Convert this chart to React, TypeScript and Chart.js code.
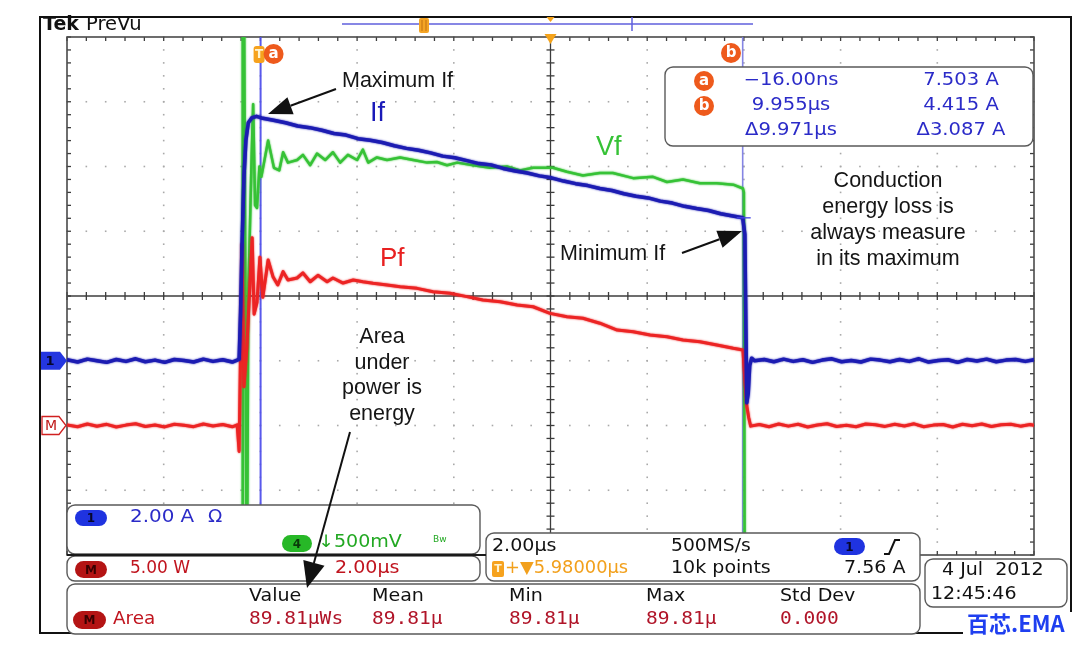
import { useEffect, useRef } from "react";
import { Chart, registerables } from "chart.js";
Chart.register(...registerables);

// ---- time base (µs), 2 µs/div, 10 divisions ----
const TIME_MIN = -4.02;
const TIME_MAX = 15.98;
const TIME_PER_DIV = 2;
const CURSOR_A = -0.016;
const CURSOR_B = 9.955;

// ---- vertical settings: units per division and zero offset (divisions from centre) ----
const CH1_PER_DIV = 2.0; // A/div
const CH1_OFFSET = -1;
const MATH_PER_DIV = 5.0; // W/div
const MATH_OFFSET = -2;
const CH4_PER_DIV = 0.5; // V/div
const CH4_OFFSET = -1;

// ---- If (channel 1, A) ----
const ifTime = [
  -4.02, -3.8, -3.6, -3.4, -3.2, -3.0, -2.8, -2.6, -2.4, -2.2, -2.0, -1.8, -1.6, -1.4, -1.2, -1.0, -0.8, -0.6, -0.5,
  -0.46, -0.43, -0.4, -0.36, -0.32, -0.27, -0.2, -0.1, 0,
  0.25, 0.5, 0.75, 1, 1.25, 1.5, 1.75, 2, 2.25, 2.5, 2.75, 3, 3.25, 3.5, 3.75, 4, 4.25, 4.5, 4.75, 5, 5.25, 5.5, 5.75,
  6, 6.25, 6.5, 6.75, 7, 7.25, 7.5, 7.75, 8, 8.25, 8.5, 8.75, 9, 9.25, 9.5, 9.75,
  9.955, 10, 10.02, 10.04, 10.07, 10.1, 10.14, 10.2,
  10.4, 10.6, 10.8, 11, 11.2, 11.4, 11.6, 11.8, 12, 12.2, 12.4, 12.6, 12.8, 13, 13.2, 13.4, 13.6, 13.8, 14, 14.2,
  14.4, 14.6, 14.8, 15, 15.2, 15.4, 15.6, 15.8, 15.98,
];
const ifAmps = [
  0.03, -0.04, 0.05, 0.0, -0.05, 0.04, -0.02, 0.06, -0.03, 0.02, -0.05, 0.04, 0.01, -0.04, 0.05, -0.02, 0.03, -0.04, 0.02,
  0.05, 1.5, 3.6, 5.7, 6.8, 7.35, 7.5, 7.55, 7.5,
  7.43, 7.35, 7.25, 7.2, 7.12, 7.02, 6.97, 6.86, 6.81, 6.74, 6.64, 6.56, 6.5, 6.42, 6.32, 6.27, 6.18, 6.09, 6.05, 5.94,
  5.86, 5.8, 5.71, 5.65, 5.55, 5.47, 5.41, 5.32, 5.26, 5.16, 5.08, 5.03, 4.93, 4.87, 4.77, 4.7, 4.64, 4.54, 4.47,
  4.415, 3.9, 1.2, -1.3, -1.0, -0.15, 0.08, 0.0,
  0.04, -0.03, 0.05, -0.02, 0.03, -0.05, 0.02, 0.06, -0.03, 0.01, -0.04, 0.05, 0.02, -0.03, 0.04, -0.02, 0.06, -0.04,
  0.01, 0.03, -0.05, 0.04, -0.01, 0.05, -0.03, 0.02, 0.04, -0.02, 0.03,
];

// ---- Vf (channel 4, V) ----
const vfTime = [
  -4.02, -0.4, -0.385, -0.36, -0.3, -0.27, -0.2, -0.17, -0.13, -0.09, -0.04, 0,
  0.14, 0.26, 0.37, 0.45, 0.55, 0.74, 0.86, 1.01, 1.15, 1.32, 1.48, 1.63, 1.79, 1.98, 2.1, 2.21, 2.39, 2.6, 2.87,
  3.14, 3.43, 3.63, 3.84, 4.05, 4.38, 4.73, 5.08, 5.35, 5.62, 6.03, 6.32, 6.65, 7.0, 7.27, 7.69, 8.1, 8.39, 8.72,
  9.07, 9.42, 9.76, 9.96,
  9.98, 10.0, 15.98,
];
const vfVolts = [
  -2.4, -2.4, 3.0, 3.0, -2.0, 0.5, 1.6, 1.98, 1.2, 1.18, 1.5, 1.42,
  1.7, 1.49, 1.47, 1.61, 1.53, 1.55, 1.59, 1.51, 1.6, 1.55, 1.61, 1.53, 1.59, 1.55, 1.63, 1.53, 1.57, 1.55, 1.57,
  1.55, 1.53, 1.535, 1.51, 1.53, 1.51, 1.49, 1.5, 1.47, 1.49, 1.49, 1.46, 1.43, 1.45, 1.45, 1.41, 1.42, 1.38, 1.4,
  1.37, 1.37, 1.36, 1.33,
  1.3, -2.4, -2.4,
];

// ---- Pf (math, W) ----
const pfTime = [
  -4.02, -3.8, -3.6, -3.4, -3.2, -3.0, -2.8, -2.6, -2.4, -2.2, -2.0, -1.8, -1.6, -1.4, -1.2, -1.0, -0.8, -0.6, -0.5,
  -0.46, -0.4, -0.36, -0.3, -0.19, -0.15, -0.09, -0.03, 0.03,
  0.14, 0.24, 0.34, 0.45, 0.55, 0.74, 0.86, 1.01, 1.17, 1.36, 1.48, 1.69, 1.9, 2.1, 2.31, 2.6, 2.87, 3.22, 3.55,
  3.9, 4.25, 4.58, 4.94, 5.29, 5.62, 5.97, 6.32, 6.65, 7.0, 7.36, 7.69, 8.04, 8.39, 8.72, 9.07, 9.42, 9.76, 9.96,
  10.0, 10.04, 10.08, 10.12,
  10.3, 10.5, 10.7, 10.9, 11.1, 11.3, 11.5, 11.7, 11.9, 12.1, 12.3, 12.5, 12.7, 12.9, 13.1, 13.3, 13.5, 13.7, 13.9,
  14.1, 14.3, 14.5, 14.7, 14.9, 15.1, 15.3, 15.5, 15.7, 15.9, 15.98,
];
const pfWatts = [
  0.05, -0.1, 0.12, -0.06, 0.09, -0.12, 0.03, 0.13, -0.08, 0.04, -0.11, 0.1, 0.02, -0.09, 0.12, -0.04, 0.08, -0.1, 0.05,
  -2.0, 14.0, 3.0, 6.0, 14.5, 8.6, 9.5, 13.0, 9.9,
  12.78, 11.49, 10.85, 11.88, 11.24, 11.39, 11.78, 11.1, 11.6, 11.1, 11.39, 11.0, 11.24, 11.1, 10.98, 10.85, 10.72,
  10.59, 10.33, 10.21, 9.95, 9.69, 9.56, 9.3, 9.17, 8.66, 8.4, 8.28, 7.9, 7.37, 7.24, 6.99, 6.86, 6.6, 6.47, 6.22,
  5.96, 5.83,
  3.5, 1.5, 0.6, -0.05,
  0.08, -0.1, 0.12, -0.05, 0.1, -0.12, 0.04, 0.14, -0.08, 0.02, -0.1, 0.12, 0.05, -0.07, 0.1, -0.04, 0.13, -0.1,
  0.03, 0.08, -0.12, 0.1, -0.02, 0.12, -0.08, 0.05, 0.1, -0.05, 0.07, 0.02,
];

// ---- readouts ----
const cursorTimes = ["\u221216.00ns", "9.955\u00b5s", "\u03949.971\u00b5s"];
const cursorAmps = ["7.503 A", "4.415 A", "\u03943.087 A"];
const measHeaders = ["Value", "Mean", "Min", "Max", "Std Dev"];
const measValues = ["89.81\u00b5Ws", "89.81\u00b5", "89.81\u00b5", "89.81\u00b5", "0.000"];

const TEK = '"DejaVu Sans", sans-serif';
const ANN = '"Liberation Sans", Arial, sans-serif';
const MONO = '"DejaVu Sans Mono", monospace';

function txt(ctx: CanvasRenderingContext2D, s: string, x: number, y: number, font: string, color: string, align: CanvasTextAlign = "left", sx = 1) {
  ctx.save();
  ctx.font = font;
  ctx.fillStyle = color;
  ctx.textAlign = align;
  ctx.textBaseline = "middle";
  ctx.translate(x, y);
  ctx.scale(sx, 1);
  ctx.fillText(s, 0, 0);
  ctx.restore();
}

function rr(ctx: CanvasRenderingContext2D, x: number, y: number, w: number, h: number, r: number) {
  ctx.beginPath();
  ctx.moveTo(x + r, y);
  ctx.lineTo(x + w - r, y);
  ctx.arcTo(x + w, y, x + w, y + r, r);
  ctx.lineTo(x + w, y + h - r);
  ctx.arcTo(x + w, y + h, x + w - r, y + h, r);
  ctx.lineTo(x + r, y + h);
  ctx.arcTo(x, y + h, x, y + h - r, r);
  ctx.lineTo(x, y + r);
  ctx.arcTo(x, y, x + r, y, r);
  ctx.closePath();
}

function box(ctx: CanvasRenderingContext2D, x: number, y: number, w: number, h: number) {
  rr(ctx, x, y, w, h, 8);
  ctx.fillStyle = "#ffffff";
  ctx.fill();
  ctx.strokeStyle = "#5a5a5a";
  ctx.lineWidth = 1.4;
  ctx.stroke();
}

function pill(ctx: CanvasRenderingContext2D, x: number, y: number, w: number, h: number, fill: string, label: string, labelColor: string) {
  rr(ctx, x, y, w, h, h / 2);
  ctx.fillStyle = fill;
  ctx.fill();
  txt(ctx, label, x + w / 2, y + h / 2 + 1, `bold 12px ${TEK}`, labelColor, "center");
}

function line(ctx: CanvasRenderingContext2D, x1: number, y1: number, x2: number, y2: number) {
  ctx.beginPath();
  ctx.moveTo(x1, y1);
  ctx.lineTo(x2, y2);
  ctx.stroke();
}

function arrow(ctx: CanvasRenderingContext2D, x1: number, y1: number, x2: number, y2: number, hl = 24, hw = 9) {
  const a = Math.atan2(y2 - y1, x2 - x1);
  const bx = x2 - hl * Math.cos(a);
  const by = y2 - hl * Math.sin(a);
  ctx.strokeStyle = "#111";
  ctx.lineWidth = 2;
  line(ctx, x1, y1, bx, by);
  ctx.beginPath();
  ctx.moveTo(x2, y2);
  ctx.lineTo(bx + hw * Math.sin(a), by - hw * Math.cos(a));
  ctx.lineTo(bx - hw * Math.sin(a), by + hw * Math.cos(a));
  ctx.closePath();
  ctx.fillStyle = "#111";
  ctx.fill();
}

function badge(ctx: CanvasRenderingContext2D, cx: number, cy: number, s: string) {
  ctx.beginPath();
  ctx.arc(cx, cy, 10, 0, Math.PI * 2);
  ctx.fillStyle = "#ee5a1c";
  ctx.fill();
  txt(ctx, s, cx, cy, `bold 15px ${TEK}`, "#ffffff", "center");
}

const scopePlugin = {
  id: "scope",
  beforeDraw(chart: any) {
    const ctx = chart.ctx as CanvasRenderingContext2D;
    ctx.save();
    ctx.fillStyle = "#ffffff";
    ctx.fillRect(0, 0, chart.width, chart.height);
    ctx.restore();
  },
  beforeDatasetDraw(chart: any, args: any) {
    const ctx = chart.ctx as CanvasRenderingContext2D;
    ctx.save();
    ctx.shadowColor = chart.data.datasets[args.index].borderColor;
    ctx.shadowBlur = 2;
  },
  afterDatasetDraw(chart: any) {
    chart.ctx.restore();
  },
  beforeDatasetsDraw(chart: any) {
    const ctx = chart.ctx as CanvasRenderingContext2D;
    const { left, right, top, bottom } = chart.chartArea;
    const xs = chart.scales.x;
    const dy = (bottom - top) / 8;
    const xAt = (d: number) => xs.getPixelForValue(TIME_MIN + d * TIME_PER_DIV);
    ctx.save();
    // dotted graticule
    ctx.fillStyle = "#a9a9a9";
    for (let i = 1; i < 10; i++) {
      if (i === 5) continue;
      const x = xAt(i);
      for (let k = 0; k <= 40; k++) ctx.fillRect(x - 0.8, top + (k * dy) / 5 - 0.8, 1.6, 1.6);
    }
    for (let j = 1; j < 8; j++) {
      if (j === 4) continue;
      const y = top + j * dy;
      for (let k = 0; k <= 50; k++) ctx.fillRect(xAt(k / 5) - 0.8, y - 0.8, 1.6, 1.6);
    }
    // centre cross with minor ticks
    const cx = xAt(5);
    const cy = top + 4 * dy;
    ctx.strokeStyle = "#3c3c3c";
    ctx.lineWidth = 1.3;
    line(ctx, left, cy, right, cy);
    line(ctx, cx, top, cx, bottom);
    for (let k = 0; k <= 50; k++) {
      const x = xAt(k / 5);
      line(ctx, x, cy - 4, x, cy + 4);
      line(ctx, x, top, x, top + 4);
      line(ctx, x, bottom - 4, x, bottom);
    }
    for (let k = 0; k <= 40; k++) {
      const y = top + (k * dy) / 5;
      line(ctx, cx - 4, y, cx + 4, y);
      line(ctx, left, y, left + 4, y);
      line(ctx, right - 4, y, right, y);
    }
    ctx.strokeStyle = "#4a4a4a";
    ctx.lineWidth = 1.6;
    ctx.strokeRect(left, top, right - left, bottom - top);
    // cursors
    const xa = xs.getPixelForValue(CURSOR_A);
    const xb = xs.getPixelForValue(CURSOR_B);
    ctx.strokeStyle = "rgba(80,80,235,0.95)";
    ctx.lineWidth = 2;
    line(ctx, xa, top, xa, bottom);
    ctx.strokeStyle = "rgba(120,120,225,0.9)";
    ctx.lineWidth = 1.6;
    line(ctx, xb, top, xb, bottom);
    ctx.restore();
  },
  afterDatasetsDraw(chart: any) {
    const ctx = chart.ctx as CanvasRenderingContext2D;
    const { left, top, bottom } = chart.chartArea;
    const xs = chart.scales.x;
    const yI = chart.scales.yI;
    const yM = chart.scales.yM;
    const xb = xs.getPixelForValue(CURSOR_B);
    const xa = xs.getPixelForValue(CURSOR_A);
    ctx.save();

    // cursor b amplitude mark
    ctx.strokeStyle = "rgba(70,70,230,0.9)";
    ctx.lineWidth = 1.5;
    const yb = yI.getPixelForValue(4.415);
    line(ctx, xb - 6, yb, xb + 8, yb);

    // outer frame
    ctx.strokeStyle = "#111";
    ctx.lineWidth = 2;
    ctx.strokeRect(40, 17, 1031, 616);

    // header
    txt(ctx, "Tek", 43, 25, `bold 19px ${TEK}`, "#111");
    txt(ctx, "PreVu", 86, 25, `19px ${TEK}`, "#111", "left", 1.03);
    ctx.strokeStyle = "rgb(95,95,220)";
    ctx.lineWidth = 1.5;
    line(ctx, 342, 24, 753, 24);
    line(ctx, 632, 17, 632, 31);
    rr(ctx, 419, 18, 10, 15, 2);
    ctx.fillStyle = "#f4a424";
    ctx.fill();
    ctx.strokeStyle = "#c07010";
    ctx.lineWidth = 1;
    line(ctx, 422, 20, 422, 31);
    line(ctx, 426, 20, 426, 31);
    const cx = xs.getPixelForValue(TIME_MIN + 5 * TIME_PER_DIV);
    ctx.fillStyle = "#f5a31a";
    ctx.beginPath();
    ctx.moveTo(cx - 6, top - 3);
    ctx.lineTo(cx + 6, top - 3);
    ctx.lineTo(cx, top + 7);
    ctx.closePath();
    ctx.fill();
    ctx.beginPath();
    ctx.moveTo(cx - 4, 17);
    ctx.lineTo(cx + 4, 17);
    ctx.lineTo(cx, 22);
    ctx.closePath();
    ctx.fill();

    // cursor badges
    rr(ctx, xa - 7, 46, 11, 17, 3);
    ctx.fillStyle = "#f6a21e";
    ctx.fill();
    txt(ctx, "T", xa - 1.5, 55, `bold 12px ${TEK}`, "#fff3d0", "center");
    badge(ctx, xa + 13, 54, "a");
    badge(ctx, 731, 53, "b");

    // channel markers
    const y1 = yI.getPixelForValue(0);
    ctx.beginPath();
    ctx.moveTo(41, y1 - 9);
    ctx.lineTo(60, y1 - 9);
    ctx.lineTo(left, y1);
    ctx.lineTo(60, y1 + 9);
    ctx.lineTo(41, y1 + 9);
    ctx.closePath();
    ctx.fillStyle = "#2436e0";
    ctx.fill();
    txt(ctx, "1", 50, y1 + 1, `bold 13px ${TEK}`, "#06062a", "center");
    const yMz = yM.getPixelForValue(0);
    ctx.beginPath();
    ctx.moveTo(42, yMz - 9);
    ctx.lineTo(59, yMz - 9);
    ctx.lineTo(left - 1, yMz);
    ctx.lineTo(59, yMz + 9);
    ctx.lineTo(42, yMz + 9);
    ctx.closePath();
    ctx.fillStyle = "#fff";
    ctx.fill();
    ctx.strokeStyle = "#d02020";
    ctx.lineWidth = 1.3;
    ctx.stroke();
    txt(ctx, "M", 51, yMz + 1, `14px ${TEK}`, "#c01818", "center");

    // cursor readout
    box(ctx, 665, 67, 368, 79);
    badge(ctx, 704, 81, "a");
    badge(ctx, 704, 106, "b");
    const rows = [81, 106, 131];
    rows.forEach((y, i) => {
      txt(ctx, cursorTimes[i], 791, y, `17px ${TEK}`, "#2b2bc8", "center", 1.15);
      txt(ctx, cursorAmps[i], 961, y, `17px ${TEK}`, "#2b2bc8", "center", 1.15);
    });

    // annotations
    const AF = `21.5px ${ANN}`;
    txt(ctx, "Maximum If", 342, 81, AF, "#151515");
    arrow(ctx, 336, 89, 268, 114);
    txt(ctx, "If", 370, 114, `27px ${ANN}`, "#1a1ab8");
    txt(ctx, "Vf", 596, 148, `27px ${ANN}`, "#36c236");
    txt(ctx, "Pf", 380, 259, `26px ${ANN}`, "#e82020");
    txt(ctx, "Minimum If", 560, 254, AF, "#151515");
    arrow(ctx, 682, 253, 742, 231);
    ["Conduction", "energy loss is", "always measure", "in its maximum"].forEach((s, i) =>
      txt(ctx, s, 888, 181 + i * 26, AF, "#151515", "center")
    );
    ["Area", "under", "power is", "energy"].forEach((s, i) => txt(ctx, s, 382, 337 + i * 25.7, AF, "#151515", "center"));

    // bottom panels
    box(ctx, 67, 505, 413, 49);
    box(ctx, 67, 556, 413, 25);
    box(ctx, 486, 533, 434, 48);
    box(ctx, 67, 584, 853, 50);
    box(ctx, 925, 559, 142, 48);
    ctx.strokeStyle = "#1a1a1a";
    ctx.lineWidth = 2;
    line(ctx, 67, bottom, 486, bottom);

    const TF = `17px ${TEK}`;
    pill(ctx, 75, 510, 32, 16, "#1f33e0", "1", "#06062a");
    txt(ctx, "2.00 A", 130, 518, TF, "#2b2bc8", "left", 1.17);
    txt(ctx, "\u03a9", 208, 518, TF, "#2b2bc8", "left", 1.1);
    pill(ctx, 282, 535, 30, 17, "#27b827", "4", "#0a3a0a");
    txt(ctx, "\u2193500mV", 318, 543, TF, "#22a822", "left", 1.12);
    txt(ctx, "Bw", 433, 540, `9px ${TEK}`, "#22a822");

    pill(ctx, 75, 561, 32, 17, "#b41414", "M", "#3a0000");
    txt(ctx, "5.00 W", 130, 569, TF, "#c0141e", "left", 1.0);
    txt(ctx, "2.00\u00b5s", 335, 569, TF, "#c0141e", "left", 1.12);

    txt(ctx, "2.00\u00b5s", 492, 547, TF, "#111", "left", 1.12);
    txt(ctx, "500MS/s", 671, 547, TF, "#111", "left", 1.1);
    pill(ctx, 834, 538, 31, 17, "#1f33e0", "1", "#06062a");
    ctx.strokeStyle = "#111";
    ctx.lineWidth = 2;
    ctx.beginPath();
    ctx.moveTo(884, 554);
    ctx.lineTo(889, 554);
    ctx.lineTo(895, 540);
    ctx.lineTo(900, 540);
    ctx.stroke();
    rr(ctx, 492, 561, 12, 16, 2);
    ctx.fillStyle = "#f6a21e";
    ctx.fill();
    txt(ctx, "T", 498, 569.5, `bold 11px ${TEK}`, "#fff3d0", "center");
    txt(ctx, "+\u25bc5.98000\u00b5s", 505, 569, TF, "#f2a01c", "left", 1.05);
    txt(ctx, "10k points", 671, 569, TF, "#111", "left", 1.12);
    txt(ctx, "7.56 A", 844, 569, TF, "#111", "left", 1.12);

    const cols = [249, 372, 509, 646, 780];
    measHeaders.forEach((s, i) => txt(ctx, s, cols[i], 597, TF, "#111", "left", 1.12));
    pill(ctx, 73, 611, 33, 18, "#b41414", "M", "#3a0000");
    txt(ctx, "Area", 113, 620, TF, "#c0141e", "left", 1.08);
    measValues.forEach((s, i) => txt(ctx, s, cols[i], 620, `17px ${MONO}`, "#b01428", "left", 1.15));

    txt(ctx, "4 Jul  2012", 942, 571, TF, "#111", "left", 1.12);
    txt(ctx, "12:45:46", 931, 595, TF, "#111", "left", 1.12);

    // area arrow (over the panels)
    arrow(ctx, 350, 432, 307, 588, 26, 11);

    // watermark
    ctx.fillStyle = "#ffffff";
    ctx.fillRect(963, 612, 118, 30);
    txt(ctx, "\u767e\u82af.EMA", 967, 624, `bold 22px "Noto Sans CJK SC", sans-serif`, "#1f3ff0");
    ctx.restore();
  },
};

export default function App() {
  const ref = useRef<HTMLCanvasElement | null>(null);
  useEffect(() => {
    if (!ref.current) return;
    const toXY = (t: number[], v: number[]) => t.map((x, i) => ({ x, y: v[i] }));
    const chart = new Chart(ref.current, {
      type: "line",
      data: {
        datasets: [
          {
            label: "If",
            data: toXY(ifTime, ifAmps),
            borderColor: "#1c1cb2",
            borderWidth: 3.5,
            pointRadius: 0,
            yAxisID: "yI",
            order: 0,
            clip: 0,
          },
          {
            label: "Pf",
            data: toXY(pfTime, pfWatts),
            borderColor: "#ec2424",
            borderWidth: 3,
            pointRadius: 0,
            yAxisID: "yM",
            order: 1,
            clip: 0,
          },
          {
            label: "Vf",
            data: toXY(vfTime, vfVolts),
            borderColor: "#36c236",
            borderWidth: 2.5,
            pointRadius: 0,
            yAxisID: "yV",
            order: 2,
            clip: 0,
          },
        ] as any,
      },
      options: {
        responsive: false,
        animation: false,
        devicePixelRatio: 1,
        events: [],
        layout: { padding: { left: 67, right: 50, top: 37, bottom: 93 } },
        elements: { line: { tension: 0, borderJoinStyle: "round", borderCapStyle: "round" } },
        plugins: { legend: { display: false }, tooltip: { enabled: false }, title: { display: false } },
        scales: {
          x: { type: "linear", min: TIME_MIN, max: TIME_MAX, display: false },
          yI: { type: "linear", min: (-4 - CH1_OFFSET) * CH1_PER_DIV, max: (4 - CH1_OFFSET) * CH1_PER_DIV, display: false },
          yM: { type: "linear", min: (-4 - MATH_OFFSET) * MATH_PER_DIV, max: (4 - MATH_OFFSET) * MATH_PER_DIV, display: false },
          yV: { type: "linear", min: (-4 - CH4_OFFSET) * CH4_PER_DIV, max: (4 - CH4_OFFSET) * CH4_PER_DIV, display: false },
        },
      } as any,
      plugins: [scopePlugin as any],
    });
    return () => chart.destroy();
  }, []);
  return (
    <div style={{ position: "absolute", left: 0, top: 0, width: 1084, height: 648, background: "#fff" }}>
      <canvas ref={ref} width={1084} height={648} style={{ display: "block", width: 1084, height: 648 }} />
    </div>
  );
}
